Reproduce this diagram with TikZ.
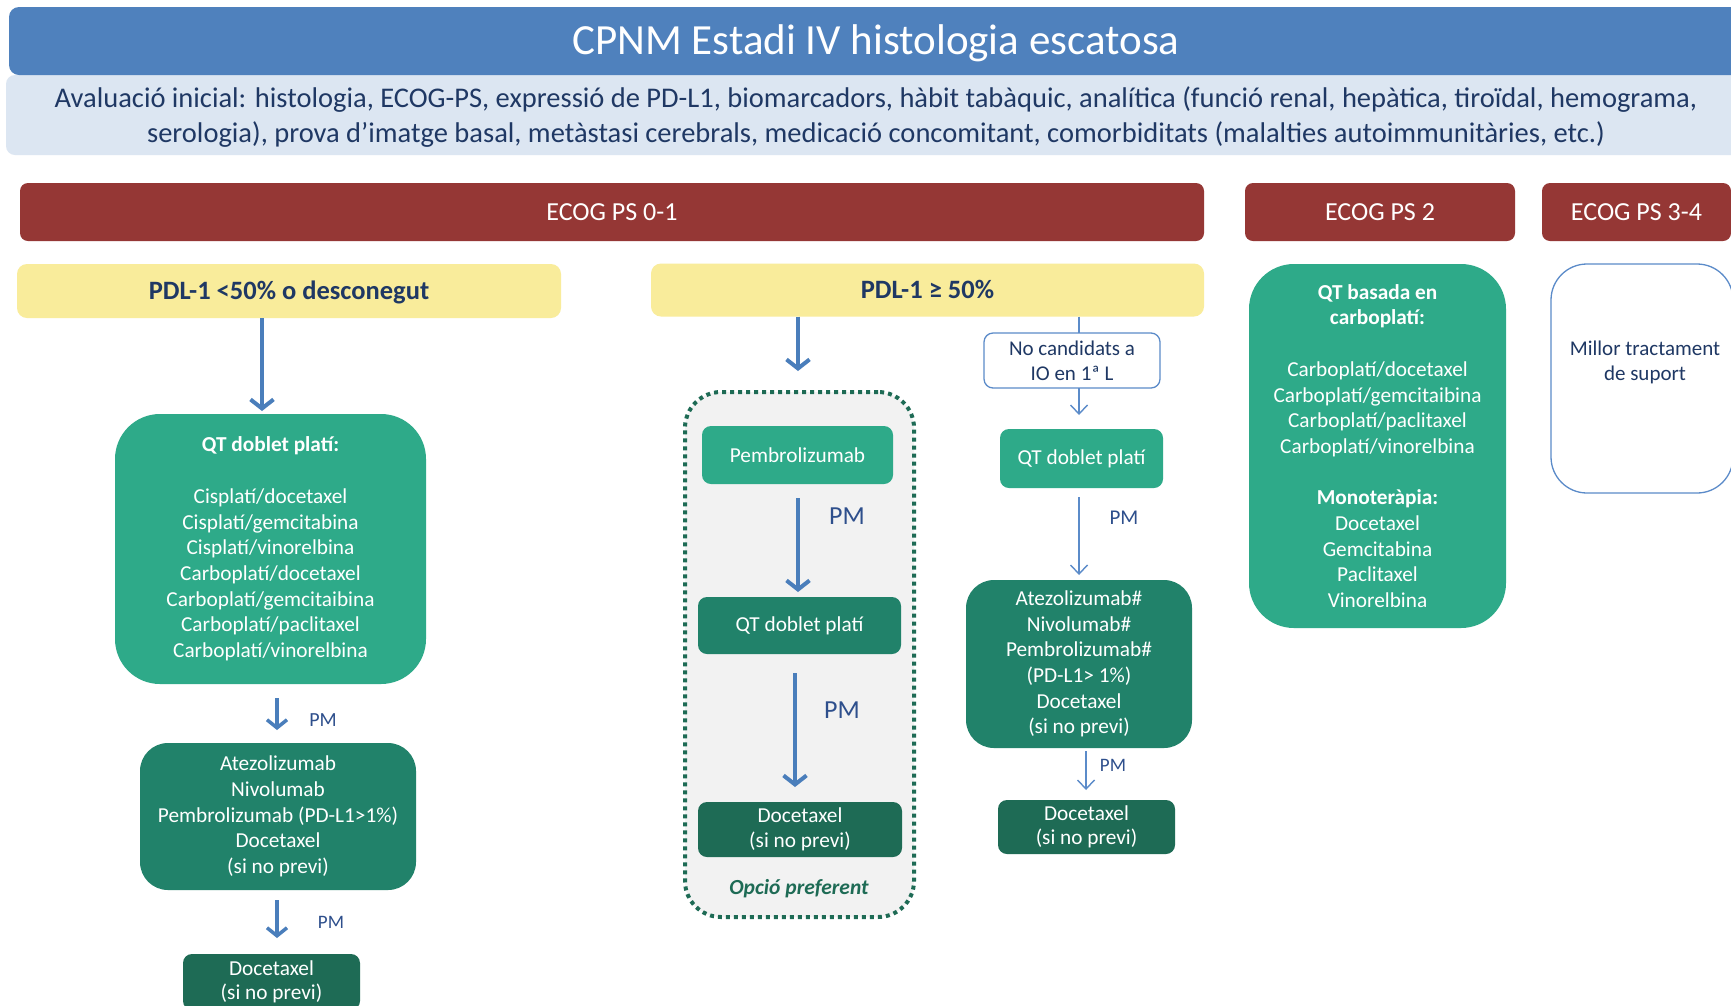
\documentclass[tikz,border=0pt]{standalone}
\usepackage{fontspec}
\setmainfont{Carlito}
\usetikzlibrary{arrows.meta}

\definecolor{titleblue}{HTML}{4F81BD}
\definecolor{bandblue}{HTML}{DCE6F2}
\definecolor{ecogred}{HTML}{953735}
\definecolor{pdlyellow}{HTML}{F9EC9B}
\definecolor{greenA}{HTML}{2EAA89}
\definecolor{greenB}{HTML}{21826A}
\definecolor{greenC}{HTML}{1E6B55}
\definecolor{navy}{HTML}{1F3864}
\definecolor{pmblue}{HTML}{2E4F8C}
\definecolor{arrowblue}{HTML}{4A7EBB}
\definecolor{thinblue}{HTML}{5B8BC9}
\definecolor{panelgray}{HTML}{F2F2F2}

\newcommand{\fs}[2]{\fontsize{#1}{#2}\selectfont}

\begin{document}
\begin{tikzpicture}[x=1pt,y=-1pt,
  every node/.style={inner sep=0pt,outer sep=0pt,align=center},
  bar/.style={fill=ecogred,rounded corners=8pt,text=white,font=\fs{26}{31},text height=16.7pt,text depth=0pt},
  pdlbox/.style={fill=pdlyellow,rounded corners=10pt,text=navy,font=\bfseries\fs{26.5}{31},text height=17pt,text depth=0pt},
  greenbox/.style={fill=greenA,text=white,font=\fs{21.3}{25.7}},
  midbox/.style={fill=greenB,text=white,font=\fs{21.3}{25.7}},
  darkbox/.style={fill=greenC,text=white,font=\fs{21.3}{24.5},rounded corners=9pt},
  outlinebox/.style={fill=white,draw=thinblue,line width=1.3pt,text=navy,font=\fs{21}{25}},
  pmlabel/.style={text=pmblue},
  thickarrow/.style={draw=arrowblue,line width=4pt,-{Straight Barb[length=9pt,width=23pt]}},
  midarrow/.style={draw=arrowblue,line width=3.5pt,-{Straight Barb[length=8pt,width=20pt]}},
  thinarrow/.style={draw=thinblue,line width=1.4pt,-{Straight Barb[length=9pt,width=17pt]}},
  thinline/.style={draw=thinblue,line width=1.4pt}
]
\clip (0,0) rectangle (1731,1005);
\fill[white] (0,0) rectangle (1731,1005);

% header: initial assessment band and title
\node[fill=bandblue,rounded corners=9pt,minimum width=1740pt,minimum height=80pt] (band) at (876,115) {};
\node[text=navy,font=\fs{28.5}{35}] (bandtext) at (876,117)
  {Avaluació inicial: histologia, ECOG-PS, expressió de PD-L1, biomarcadors, hàbit tabàquic, analítica (funció renal, hepàtica, tiroïdal, hemograma,\\
   serologia), prova d’imatge basal, metàstasi cerebrals, medicació concomitant, comorbiditats (malalties autoimmunitàries, etc.)};
\node[fill=titleblue,rounded corners=10pt,minimum width=1734pt,minimum height=68pt,text=white,font=\fs{43}{50},
      text height=27.5pt,text depth=0pt] (title) at (876,41)
  {CPNM Estadi IV histologia escatosa};

% performance status bars
\node[bar,minimum width=1184pt,minimum height=58pt] (ecog01) at (612,212) {ECOG PS 0-1};
\node[bar,minimum width=270pt,minimum height=58pt] (ecog2) at (1380,212) {ECOG PS 2};
\node[bar,minimum width=189pt,minimum height=58pt] (ecog34) at (1636.5,212) {ECOG PS 3-4};

% PD-L1 headings
\node[pdlbox,minimum width=544pt,minimum height=54pt] (pdlA) at (289,291) {PDL-1 <50\% o desconegut};
\node[pdlbox,minimum width=553pt,minimum height=53pt] (pdlB) at (927.5,290) {PDL-1 ≥ 50\%};

% PD-L1 < 50% column
\node[greenbox,rounded corners=45pt,minimum width=311pt,minimum height=270pt] (qtA) at (270.5,549)
  {\textbf{QT doblet platí:}\\[25.7pt]
   Cisplatí/docetaxel\\Cisplatí/gemcitabina\\Cisplatí/vinorelbina\\Carboplatí/docetaxel\\
   Carboplatí/gemcitaibina\\Carboplatí/paclitaxel\\Carboplatí/vinorelbina};
\node[midbox,rounded corners=28pt,minimum width=276pt,minimum height=147pt] (atezA) at (278,816.5)
  {Atezolizumab\\Nivolumab\\Pembrolizumab (PD-L1>1\%)\\Docetaxel\\(si no previ)};
\node[darkbox,minimum width=177pt,minimum height=56pt] (docA) at (271.5,982)
  {Docetaxel\\(si no previ)};

\draw[thickarrow,shorten >=3pt] ([xshift=-27pt]pdlA.south) -- ([xshift=-8.5pt]qtA.north);
\draw[midarrow,shorten <=14pt,shorten >=13pt] ([xshift=6.5pt]qtA.south) -- ([xshift=-1pt]atezA.north);
\node[pmlabel,font=\fs{20}{24}] (pm1) at (323,720) {PM};
\draw[midarrow,shorten <=10pt,shorten >=16pt] ([xshift=-1pt]atezA.south) -- ([xshift=5.5pt]docA.north);
\node[pmlabel,font=\fs{19}{23}] (pm2) at (331,922) {PM};

% PD-L1 >= 50%: preferred option panel
\node[fill=panelgray,draw=greenC,line width=4pt,dash pattern=on 4pt off 4pt,rounded corners=36pt,
      minimum width=229pt,minimum height=525pt] (panel) at (799.5,654.5) {};
\node[greenbox,rounded corners=9pt,minimum width=191pt,minimum height=58pt] (pembro) at (797.5,455) {Pembrolizumab};
\node[midbox,rounded corners=9pt,minimum width=203pt,minimum height=57pt] (qtB) at (799.5,625.5) {QT doblet platí};
\node[darkbox,minimum width=204pt,minimum height=55pt] (docB) at (800,829.5) {Docetaxel\\(si no previ)};
\node[text=greenC,font=\bfseries\itshape\fs{21.5}{25}] (pref) at (799,889) {Opció preferent};

\draw[thickarrow,shorten >=21pt] ([xshift=-129.5pt]pdlB.south) -- ([xshift=-1.5pt]panel.north);
\draw[thickarrow,shorten <=14pt,shorten >=5pt] ([xshift=0.5pt]pembro.south) -- ([xshift=-1.5pt]qtB.north);
\node[pmlabel,font=\fs{26}{30}] (pm3) at (847,516) {PM};
\draw[thickarrow,shorten <=19pt,shorten >=15pt] ([xshift=-4.5pt]qtB.south) -- ([xshift=-5pt]docB.north);
\node[pmlabel,font=\fs{26}{30}] (pm4) at (842,710) {PM};

% PD-L1 >= 50%: patients not candidates for first-line IO
\node[outlinebox,rounded corners=9pt,minimum width=176pt,minimum height=55pt] (nocand) at (1072,360.5) {No candidats a\\IO en 1ª L};
\node[greenbox,rounded corners=9pt,minimum width=163pt,minimum height=59pt] (qtC) at (1081.5,458.5) {QT doblet platí};
\node[midbox,rounded corners=28pt,minimum width=226pt,minimum height=168pt] (atezC) at (1079,664)
  {Atezolizumab\#\\Nivolumab\#\\Pembrolizumab\#\\(PD-L1> 1\%)\\Docetaxel\\(si no previ)};
\node[darkbox,minimum width=177pt,minimum height=54pt] (docC) at (1086.5,827) {Docetaxel\\(si no previ)};

\draw[thinline] ([xshift=151.5pt]pdlB.south) -- ([xshift=7pt]nocand.north);
\draw[thinarrow,shorten >=14pt] ([xshift=7pt]nocand.south) -- ([xshift=-2.5pt]qtC.north);
\draw[thinarrow,shorten <=9pt,shorten >=5pt] ([xshift=-2.5pt]qtC.south) -- (atezC.north);
\node[pmlabel,font=\fs{21}{25}] (pm5) at (1124,518) {PM};
\draw[thinarrow,shorten <=3pt,shorten >=10pt] ([xshift=7pt]atezC.south) -- ([xshift=-0.5pt]docC.north);
\node[pmlabel,font=\fs{19}{23}] (pm6) at (1113,765) {PM};

% ECOG PS 2 and PS 3-4
\node[greenbox,rounded corners=45pt,minimum width=257pt,minimum height=364pt] (qtbas) at (1377.5,446)
  {\textbf{QT basada en}\\\textbf{carboplatí:}\\[25.7pt]
   Carboplatí/docetaxel\\Carboplatí/gemcitaibina\\Carboplatí/paclitaxel\\Carboplatí/vinorelbina\\[25.7pt]
   \textbf{Monoteràpia:}\\Docetaxel\\Gemcitabina\\Paclitaxel\\Vinorelbina};
\node[outlinebox,rounded corners=36pt,minimum width=182pt,minimum height=229pt] (millor) at (1642,378.5) {};
\node[text=navy,font=\fs{21}{25}] (millortext) at (1645,362) {Millor tractament\\de suport};
\end{tikzpicture}
\end{document}
